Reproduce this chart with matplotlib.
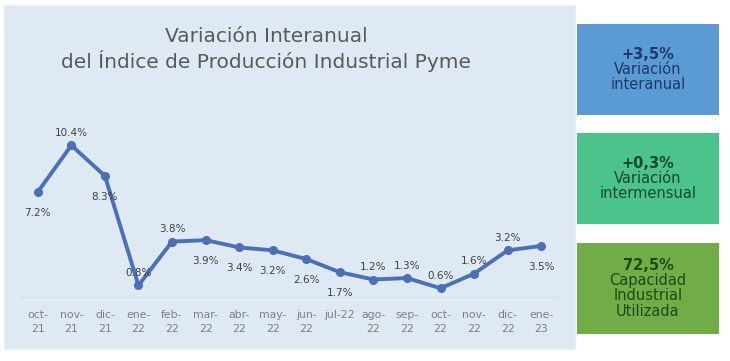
import matplotlib.pyplot as plt
from matplotlib.patches import Rectangle

# data
meses = ['oct-\n21', 'nov-\n21', 'dic-\n21', 'ene-\n22', 'feb-\n22', 'mar-\n22', 'abr-\n22', 'may-\n22',
         'jun-\n22', 'jul-22', 'ago-\n22', 'sep-\n22', 'oct-\n22', 'nov-\n22', 'dic-\n22', 'ene-\n23']
variacion = [7.2, 10.4, 8.3, 0.8, 3.8, 3.9, 3.4, 3.2, 2.6, 1.7, 1.2, 1.3, 0.6, 1.6, 3.2, 3.5]
# label above (1) or below (-1) the point
posicion = [-1, 1, -1, 1, 1, -1, -1, -1, -1, -1, 1, 1, 1, 1, 1, -1]

cajas_valor = ['+3,5%', '+0,3%', '72,5%']
cajas_texto = [['Variación', 'interanual'], ['Variación', 'intermensual'], ['Capacidad', 'Industrial', 'Utilizada']]
cajas_fondo = ['#5b9bd5', '#4cc38a', '#70ad47']
cajas_letra = ['#1f3864', '#0d4a2a', '#1c4a10']

W, H = 730, 361
fig = plt.figure(figsize=(W / 100, H / 100), dpi=100)
fig.patch.set_facecolor('white')

# light blue panel behind the chart
fig.patches.append(Rectangle((4 / W, 1 - 349 / H), 571 / W, 344 / H, transform=fig.transFigure,
                             facecolor='#dfe9f4', edgecolor='#e8eff8', lw=1, zorder=0))

ax = fig.add_axes([21 / W, 1 - 297 / H, 537 / W, 175 / H])
ax.set_zorder(5)
ax.set_facecolor('none')
x = list(range(len(variacion)))
ax.plot(x, variacion, color='#4a70b8', lw=2.8, marker='o', ms=5.5, zorder=3, clip_on=False)
for i, v in enumerate(variacion):
    dy = 9 if posicion[i] > 0 else -15
    ax.annotate(f'{v}%', (i, v), xytext=(0, dy), textcoords='offset points', ha='center', va='center',
                fontsize=7.5, color='#404040')

ax.set_xlim(-0.5, len(variacion) - 0.5)
ax.set_ylim(0, 12)
ax.set_xticks(x)
ax.set_xticklabels(meses, fontsize=7.8, color='#7f7f7f', linespacing=1.6)
ax.tick_params(axis='x', length=0, pad=9)
ax.set_yticks([])
for s in ['top', 'right', 'left']:
    ax.spines[s].set_visible(False)
ax.spines['bottom'].set_color('#d4dde8')
ax.spines['bottom'].set_linewidth(1)

fig.text(266 / W, 1 - 36 / H, 'Variación Interanual', ha='center', va='center', fontsize=14.5, color='#595959')
fig.text(266 / W, 1 - 61 / H, 'del Índice de Producción Industrial Pyme', ha='center', va='center',
         fontsize=14.5, color='#595959')

# the three indicator boxes on the right
tops = [24, 133, 243]
for k in range(3):
    y0 = tops[k]
    fig.patches.append(Rectangle((577 / W, 1 - (y0 + 91) / H), 142 / W, 91 / H, transform=fig.transFigure,
                                 facecolor=cajas_fondo[k], edgecolor='none', zorder=1))
    lineas = [cajas_valor[k]] + cajas_texto[k]
    cy = y0 + 45.5 - 7.5 * (len(lineas) - 1)
    for j, t in enumerate(lineas):
        fig.text(648 / W, 1 - (cy + 15 * j) / H, t, ha='center', va='center', fontsize=10.5,
                 fontweight='bold' if j == 0 else 'normal', color=cajas_letra[k])

fig.savefig('out.png', dpi=100)
